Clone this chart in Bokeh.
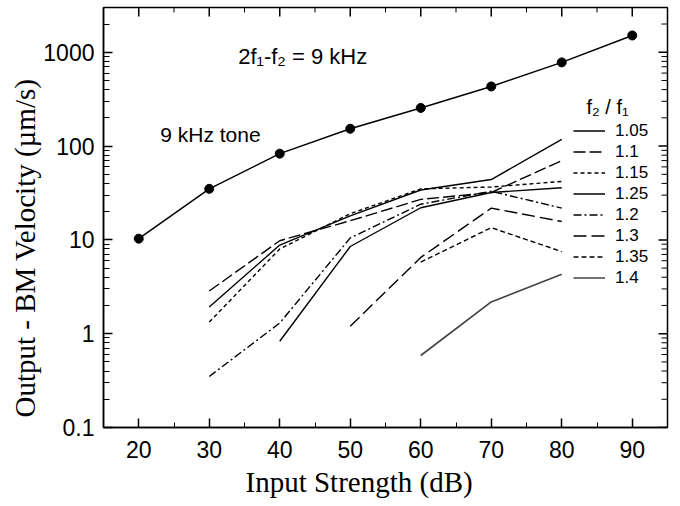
import math
from bokeh.plotting import figure
from bokeh.models import (FixedTicker, Legend, LegendItem, Label, Title, Range1d,
                          CustomJSTickFormatter)
from bokeh.embed import file_html
from bokeh.resources import INLINE

# ---- data ----
input_db = [20, 30, 40, 50, 60, 70, 80, 90]
tone_vel = [10.3, 35, 83, 153, 255, 432, 780, 1510]

x_105 = [30, 40, 50, 60, 70, 80]
v_105 = [1.93, 8.8, 18, 34, 44, 118]
x_110 = [30, 40, 50, 60, 70, 80]
v_110 = [2.85, 9.8, 16, 27, 32, 70]
x_115 = [30, 40, 50, 60, 70, 80]
v_115 = [1.33, 8.0, 19, 35, 36.6, 42]
x_125 = [40, 50, 60, 70, 80]
v_125 = [0.83, 8.5, 22, 32, 36]
x_120 = [30, 40, 50, 60, 70, 80]
v_120 = [0.35, 1.3, 10.5, 24, 33, 21.8]
x_130 = [50, 60, 70, 80]
v_130 = [1.2, 6.5, 21.8, 15.7]
x_135 = [60, 70, 80]
v_135 = [5.8, 13.5, 7.5]
x_140 = [60, 70, 80]
v_140 = [0.585, 2.18, 4.3]

ratios = ["1.05", "1.1", "1.15", "1.25", "1.2", "1.3", "1.35", "1.4"]

x_ticks = [20, 30, 40, 50, 60, 70, 80, 90]
x_minor = [25, 35, 45, 55, 65, 75, 85]
y_ticks = [0.1, 1, 10, 100, 1000]
y_minor = [m * 10 ** e for e in range(-1, 4) for m in range(2, 10) if m * 10 ** e <= 3000]

X0, X1 = 15, 95
Y0, Y1 = 0.1, 3000

TICK_FONT = "Liberation Sans"
TITLE_FONT = "Liberation Serif"

p = figure(width=672, height=504, x_range=Range1d(X0, X1), y_range=Range1d(Y0, Y1),
           y_axis_type="log", output_backend="svg", toolbar_location=None,
           min_border_left=103, min_border_right=5, min_border_top=7, min_border_bottom=77,
           background_fill_color="white", border_fill_color="white")
p.grid.visible = False
p.outline_line_color = "black"
p.outline_line_width = 1.5

xa = p.xaxis[0]
xa.ticker = FixedTicker(ticks=x_ticks, minor_ticks=x_minor)
ya = p.yaxis[0]
ya.ticker = FixedTicker(ticks=y_ticks, minor_ticks=y_minor)
ya.formatter = CustomJSTickFormatter(code="return String(tick);")
for ax in (xa, ya):
    ax.major_tick_in = 9
    ax.major_tick_out = 0
    ax.minor_tick_out = 0
    ax.axis_line_width = 1.5
    ax.axis_line_color = "black"
    ax.major_tick_line_color = "black"
    ax.minor_tick_line_color = "black"
    ax.major_tick_line_width = 1.5
    ax.minor_tick_line_width = 1
    ax.major_label_text_font = TICK_FONT
    ax.major_label_text_font_size = "23px"
    ax.major_label_text_color = "black"
xa.minor_tick_in = 5
ya.minor_tick_in = 6
xa.major_label_standoff = 13
ya.major_label_standoff = 9

# mirrored tick marks on the top and right edges
ang = math.pi / 2
p.ray(x=x_ticks, y=[Y1] * len(x_ticks), length=9, length_units="screen",
      angle=-ang, line_color="black", line_width=1.5)
p.ray(x=x_minor, y=[Y1] * len(x_minor), length=5, length_units="screen",
      angle=-ang, line_color="black", line_width=1)
p.ray(x=[X1] * len(y_ticks), y=y_ticks, length=9, length_units="screen",
      angle=math.pi, line_color="black", line_width=1.5)
p.ray(x=[X1] * len(y_minor), y=y_minor, length=6, length_units="screen",
      angle=math.pi, line_color="black", line_width=1)

# axis titles
p.add_layout(Title(text="Input Strength (dB)", align="left", offset=142,
                   text_font=TITLE_FONT, text_font_size="29px", text_font_style="normal",
                   text_color="black", standoff=6), "below")
p.add_layout(Title(text="Output - BM Velocity (\u00b5m/s)", align="left", offset=10,
                   text_font=TITLE_FONT, text_font_size="29px", text_font_style="normal",
                   text_color="black", standoff=0), "left")

# tone curve
p.line(input_db, tone_vel, line_color="black", line_width=1.5)
p.scatter(input_db, tone_vel, size=9, fill_color="black", line_color="black")

lw = 1.4
r105 = p.line(x_105, v_105, line_color="black", line_width=lw)
r110 = p.line(x_110, v_110, line_color="black", line_width=lw, line_dash="12 4")
r115 = p.line(x_115, v_115, line_color="black", line_width=lw, line_dash="4 3")
r125 = p.line(x_125, v_125, line_color="black", line_width=lw)
r120 = p.line(x_120, v_120, line_color="black", line_width=lw, line_dash="8 3 2 3")
r130 = p.line(x_130, v_130, line_color="black", line_width=lw, line_dash="13 5")
r135 = p.line(x_135, v_135, line_color="black", line_width=lw, line_dash="5 3")
r140 = p.line(x_140, v_140, line_color="#444444", line_width=1.7)

rends = [r105, r110, r115, r125, r120, r130, r135, r140]
legend = Legend(items=[LegendItem(label=t, renderers=[r]) for t, r in zip(ratios, rends)],
                location=(470, 139),
                label_text_font=TICK_FONT, label_text_font_size="17px",
                label_text_color="black",
                glyph_width=32, glyph_height=21, label_height=21, label_standoff=10,
                spacing=0, padding=0, margin=0,
                border_line_alpha=0, background_fill_alpha=0)
p.add_layout(legend)

p.add_layout(Label(x=83.5, y=260, text="f\u2082 / f\u2081", text_font=TICK_FONT,
                   text_font_size="20px", text_color="black",
                   text_baseline="middle", text_align="left"))
p.add_layout(Label(x=34.1, y=900, text="2f\u2081-f\u2082 = 9 kHz", text_font=TICK_FONT,
                   text_font_size="22px", text_color="black",
                   text_baseline="middle", text_align="left"))
p.add_layout(Label(x=23.05, y=133, text="9 kHz tone", text_font=TICK_FONT,
                   text_font_size="21px", text_color="black",
                   text_baseline="middle", text_align="left"))

open("out.html", "w").write(file_html(p, INLINE))
